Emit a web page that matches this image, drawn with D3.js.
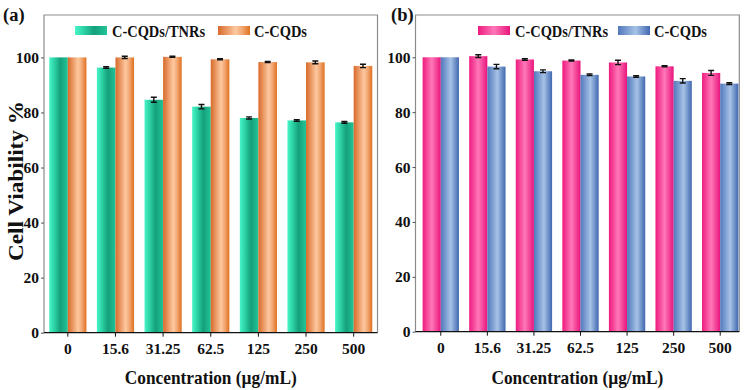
<!DOCTYPE html>
<html><head><meta charset="utf-8">
<script src="https://cdn.jsdelivr.net/npm/d3@7/dist/d3.min.js"></script>
<style>body{margin:0;background:#fff}text{font-family:"Liberation Serif","Times New Roman",serif;font-weight:bold}</style>
</head><body>
<svg id="c" width="744" height="390"></svg>
<script>
const categories = ["0","15.6","31.25","62.5","125","250","500"];
const seriesNames = ["C-CQDs/TNRs","C-CQDs"];
const yTicks = [0,20,40,60,80,100];
// Panel (a)
const aTNRs = [100,96.3,84.6,82.1,78.0,77.1,76.4];
const aTNRsErr = [0,0.3,0.9,0.8,0.4,0.3,0.3];
const aCQDs = [100,100.0,100.2,99.3,98.3,98.2,96.9];
const aCQDsErr = [0,0.4,0.2,0.2,0.2,0.5,0.6];
// Panel (b)
const bTNRs = [100,100.4,99.2,98.8,98.1,96.7,94.3];
const bTNRsErr = [0,0.5,0.3,0.2,0.8,0.2,0.9];
const bCQDs = [100,96.6,94.9,93.6,93.0,91.4,90.4];
const bCQDsErr = [0,0.8,0.5,0.3,0.3,0.8,0.3];

const svg = d3.select("#c");
const defs = svg.append("defs");
function grad(id, stops){
  const g = defs.append("linearGradient").attr("id",id).attr("x1","0").attr("x2","1").attr("y1","0").attr("y2","0");
  stops.forEach(s=>g.append("stop").attr("offset",s[0]).attr("stop-color",s[1]));
}
grad("gGreen",[[0,"#48f5c8"],[0.25,"#2fd6a8"],[0.6,"#14a07a"],[1,"#22c497"]]);
grad("gOrange",[[0,"#d8692a"],[0.55,"#fdc9a0"],[0.75,"#f2a874"],[1,"#e0701f"]]);
grad("gPink",[[0,"#ee1a7e"],[0.5,"#ff78b8"],[1,"#e8157c"]]);
grad("gBlue",[[0,"#5278bc"],[0.55,"#a6c2e6"],[1,"#4068b0"]]);

function panel(opt){
  const {left,right,top,bottom,xr,d1,e1,d2,e2,c1,c2,label,labelX,legX} = opt;
  const g = svg.append("g");
  const y = d3.scaleLinear().domain([0,115.4]).range([bottom,top]);
  const x = d3.scaleBand().domain(categories).range(xr).paddingInner(0.22).paddingOuter(0.11);
  const xs = d3.scaleBand().domain([0,1]).range([0,x.bandwidth()]);
  // frame
  g.append("path").attr("d",`M${left},${bottom}V${top}H${right}V${bottom}`).attr("fill","none").attr("stroke","#8c8c8c").attr("stroke-width",1.2);
  const series = [[d1,e1,c1],[d2,e2,c2]];
  series.forEach((s,si)=>{
    g.selectAll(null).data(categories).enter().append("rect")
      .attr("x",c=>x(c)+xs(si)).attr("width",xs.bandwidth())
      .attr("y",(c,i)=>y(s[0][i])).attr("height",(c,i)=>y(0)-y(s[0][i]))
      .attr("fill",`url(#${s[2]})`);
  });
  series.forEach((s,si)=>{
    categories.forEach((c,i)=>{
      if(!s[1][i]) return;
      const cx = x(c)+xs(si)+xs.bandwidth()/2;
      const y1 = y(s[0][i]+s[1][i]), y2 = y(s[0][i]-s[1][i]);
      g.append("path").attr("d",`M${cx-3},${y1}H${cx+3}M${cx},${y1}V${y2}M${cx-3},${y2}H${cx+3}`)
        .attr("stroke","#111").attr("stroke-width",1.4).attr("fill","none");
    });
  });
  // y axis
  const ya = g.append("g").attr("transform",`translate(${left},0)`)
    .call(d3.axisLeft(y).tickValues(yTicks).tickSize(3).tickPadding(2));
  ya.select(".domain").remove();
  ya.selectAll("line").attr("stroke","#555");
  ya.selectAll("text").attr("font-size",15.5).attr("fill","#111");
  // x axis
  const xa = g.append("g").attr("transform",`translate(0,${bottom})`)
    .call(d3.axisBottom(x).tickSize(4).tickPadding(6));
  xa.select(".domain").attr("d",`M${left},0H${right}`).attr("stroke","#111").attr("stroke-width",1.2);
  xa.selectAll("line").attr("stroke","#111");
  xa.selectAll("text").attr("font-size",15.5).attr("fill","#111");
  // x title
  g.append("text").attr("x",(left+right)/2).attr("y",384).attr("text-anchor","middle").attr("font-size",19).attr("fill","#111")
    .attr("textLength",172).attr("lengthAdjust","spacingAndGlyphs")
    .text("Concentration (\u00b5g/mL)");
  // panel label
  g.append("text").attr("x",labelX).attr("y",21).attr("font-size",18.5).attr("fill","#111").text(label);
  // legend
  const lg = g.append("g").attr("transform",`translate(${legX[0]},26)`);
  lg.append("rect").attr("x",0).attr("y",0).attr("width",32).attr("height",9).attr("fill",`url(#${c1})`);
  lg.append("text").attr("x",37).attr("y",10.5).attr("font-size",16.5).attr("fill","#111")
    .attr("textLength",93).attr("lengthAdjust","spacingAndGlyphs").text(seriesNames[0]);
  lg.append("rect").attr("x",legX[1]-legX[0]).attr("y",0).attr("width",32).attr("height",9).attr("fill",`url(#${c2})`);
  lg.append("text").attr("x",legX[1]-legX[0]+36).attr("y",10.5).attr("font-size",16.5).attr("fill","#111")
    .attr("textLength",53).attr("lengthAdjust","spacingAndGlyphs").text(seriesNames[1]);
}

panel({left:44,right:377.5,top:15,bottom:332.7,xr:[44,377.5],d1:aTNRs,e1:aTNRsErr,d2:aCQDs,e2:aCQDsErr,c1:"gGreen",c2:"gOrange",label:"(a)",labelX:3,legX:[75,218]});
panel({left:415.5,right:739.3,top:15,bottom:331.7,xr:[417.5,743.5],d1:bTNRs,e1:bTNRsErr,d2:bCQDs,e2:bCQDsErr,c1:"gPink",c2:"gBlue",label:"(b)",labelX:391,legX:[478,618]});

svg.append("text").attr("transform","translate(23,181) rotate(-90)").attr("text-anchor","middle").attr("font-size",20).attr("fill","#111")
  .attr("textLength",160).attr("lengthAdjust","spacingAndGlyphs").text("Cell Viability %");
</script>
</body></html>
